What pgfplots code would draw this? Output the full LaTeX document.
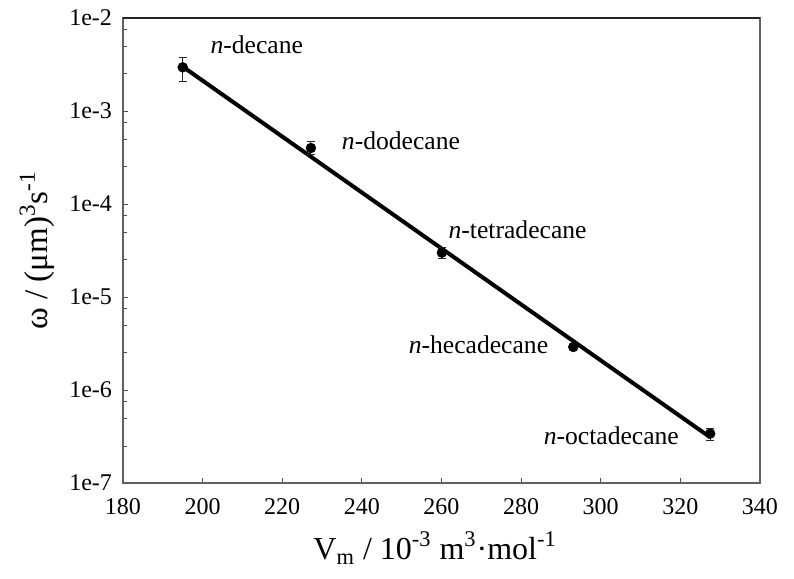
\documentclass[border=0pt]{standalone}
\usepackage{fontspec}
\setmainfont{Liberation Serif}
\usepackage{pgfplots}
\pgfplotsset{compat=1.18}
\usetikzlibrary{calc}
\begin{document}
\begin{tikzpicture}
\begin{axis}[
  scale only axis, width=318.5pt, height=232.5pt,
  xmin=180, xmax=340, ymin=1e-7, ymax=1e-2, ymode=log,
  xtick={180,200,220,240,260,280,300,320,340},
  xticklabels={180,200,220,240,260,280,300,320,340},
  ytick={1e-7,1e-6,1e-5,1e-4,1e-3,1e-2},
  yticklabels={1e-7,1e-6,1e-5,1e-4,1e-3,1e-2},
  minor ytick={2.5e-7,5e-7,7.5e-7,2.5e-6,5e-6,7.5e-6,2.5e-5,5e-5,7.5e-5,2.5e-4,5e-4,7.5e-4,2.5e-3,5e-3,7.5e-3},
  tick align=inside, tick pos=left,
  major tick length=2.5pt, minor tick length=2pt,
  tick style={gray!60!black, line width=0.5pt},
  axis line style={gray!75!black, line width=0.6pt},
  yticklabel style={font=\fontsize{12}{14}\selectfont, xshift=-2pt},
  xticklabel style={font=\fontsize{12}{14}\selectfont, yshift=-4pt},
  xlabel={V\textsubscript{m} / 10\textsuperscript{-3} m\textsuperscript{3}·mol\textsuperscript{-1}},
  xlabel style={at={(axis description cs:0.49,-0.14)}, anchor=center, font=\fontsize{16}{18}\selectfont},
  ylabel={ω / (μm)\textsuperscript{3}s\textsuperscript{-1}},
  ylabel style={at={(axis description cs:-0.135,0.5)}, anchor=center, font=\fontsize{16.5}{18}\selectfont},
  clip=false,
]
\addplot[black, line width=2pt] coordinates {(195,3.0e-3) (327.5,3.1e-7)};
\addplot[only marks, mark=*, mark size=2.4pt, black,
  error bars/.cd, y dir=both, y explicit, error mark=|,
  error bar style={line width=0.5pt, gray!30!black},
  error mark options={mark size=2pt, line width=0.5pt, gray!30!black}]
  table[x=x, y=y, y error plus=ep, y error minus=em] {
  x      y        ep       em
  195    2.95e-3  0.83e-3  0.85e-3
  227.2  4.0e-4   0.7e-4   0.6e-4
  260.1  3.0e-5   0.4e-5   0.4e-5
  293.1  2.9e-6   0.2e-6   0.2e-6
  327.5  3.4e-7   0.5e-7   0.5e-7
};
\draw[black!85, line width=0.8pt] (rel axis cs:0,1) -- (rel axis cs:1,1);
\begin{scope}[every node/.style={anchor=west, inner sep=0pt, font=\fontsize{12.8}{15}\selectfont}]
\node at (axis cs:201.9,5.1e-3) {\textit{n}-decane};
\node at (axis cs:234.9,4.75e-4) {\textit{n}-dodecane};
\node at (axis cs:261.7,5.25e-5) {\textit{n}-tetradecane};
\node at (axis cs:251.7,3.05e-6) {\textit{n}-hecadecane};
\node at (axis cs:285.6,3.2e-7) {\textit{n}-octadecane};
\end{scope}
\end{axis}
\path ($(current axis.south west)+(-61.5pt,-48pt)$) rectangle ($(current axis.north east)+(17pt,9pt)$);
\end{tikzpicture}
\end{document}
